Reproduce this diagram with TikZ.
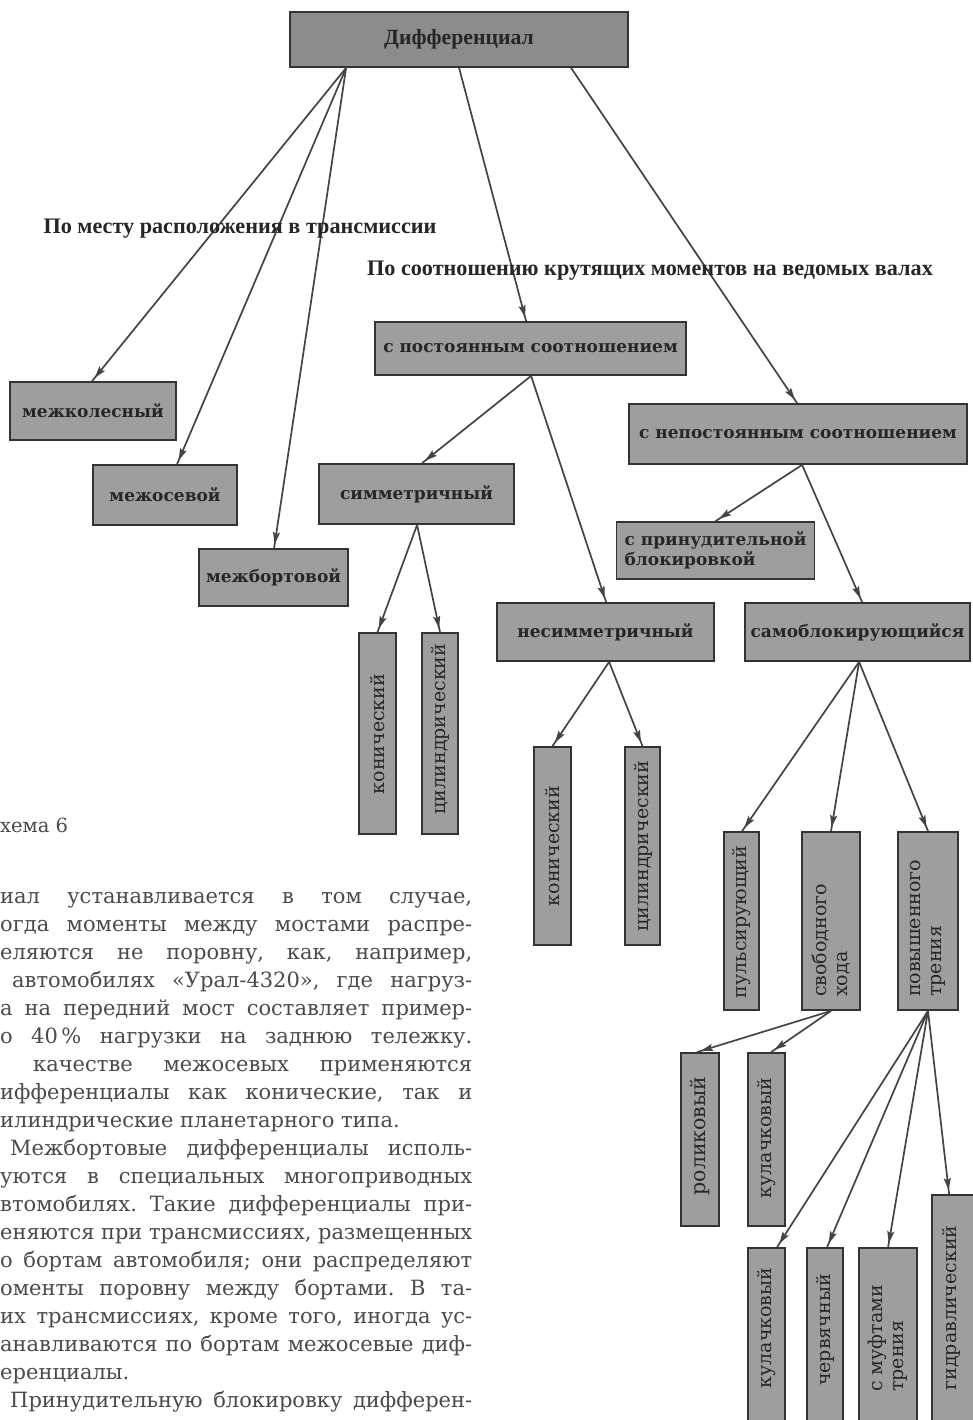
\documentclass[tikz,border=0pt]{standalone}
\usepackage{fontspec}
\usepackage{graphicx}
\setmainfont{DejaVu Serif}
\newfontfamily\lblfont{Liberation Serif}
\usetikzlibrary{arrows.meta,decorations.markings}
\definecolor{boxfill}{HTML}{9E9E9E}
\definecolor{topfill}{HTML}{8C8C8C}
\definecolor{edge}{HTML}{333333}
\definecolor{linec}{HTML}{444444}
\definecolor{txt}{HTML}{262626}
\definecolor{bodyc}{HTML}{4A4A4A}
\frenchspacing
\newsavebox\jbox
\newcommand\jline[2]{\sbox\jbox{#2}\ifdim\wd\jbox>#1\relax\resizebox{#1}{\height}{\usebox\jbox}\else\makebox[#1][s]{#2}\fi}
\begin{document}
\begin{tikzpicture}[x=1pt,y=-1pt,
  box/.style={draw=edge, line width=1.8pt, fill=boxfill, inner sep=0pt, text=txt,
    font=\bfseries\fontsize{17}{20}\selectfont},
  topbox/.style={fill=topfill, font=\lblfont\bfseries\fontsize{21.7}{24}\selectfont},
  vtext/.style={rotate=90, text=txt, inner sep=0pt, align=left,
    font=\fontsize{19}{21}\selectfont},
  lbl/.style={text=txt, inner sep=0pt, font=\lblfont\bfseries\fontsize{22.2}{25}\selectfont},
  bodyline/.style={anchor=base west, inner sep=0pt, text=bodyc,
    font=\fontsize{21}{28}\selectfont},
  conn/.style={draw=linec, line width=1.7pt, postaction=decorate,
    decoration={markings, mark=at position -4pt with {\arrow[linec]{Stealth[length=12pt,width=7pt,inset=2pt]}}}}
]
\useasboundingbox (0,0) rectangle (972,1420);
\fill[white] (0,0) rectangle (972,1420);

% top
\node[box, topbox, minimum width=338pt, minimum height=55pt] (diff) at (459,39.5) {Дифференциал};
% first branch
\node[box, minimum width=166pt, minimum height=58pt] (mk) at (93,411) {межколесный};
\node[box, minimum width=144pt, minimum height=60pt] (mo) at (165,495) {межосевой};
\node[box, minimum width=149pt, minimum height=57pt] (mb) at (273.5,577.5) {межбортовой};
% second branch
\node[box, minimum width=311pt, minimum height=53pt] (post) at (530.5,348.5) {с постоянным соотношением};
\node[box, minimum width=338pt, minimum height=60pt] (nepost) at (798,434) {с непостоянным соотношением};
\node[box, minimum width=195pt, minimum height=60pt] (sim) at (416.5,494) {симметричный};
\node[box, minimum width=217pt, minimum height=58pt] (nesim) at (605.5,632) {несимметричный};
\node[box, minimum width=198pt, minimum height=57pt, align=left] (prin) at (715.5,550.5) {с принудительной\\блокировкой};
\node[box, minimum width=225pt, minimum height=58pt] (samo) at (857.5,632) {самоблокирующийся};
% vertical boxes
\node[box, minimum width=37pt, minimum height=201pt] (kon1) at (377.5,733.5) {};
\node[box, minimum width=36pt, minimum height=201pt] (cyl1) at (440,733.5) {};
\node[box, minimum width=37pt, minimum height=198pt] (kon2) at (552.5,846) {};
\node[box, minimum width=35pt, minimum height=198pt] (cyl2) at (642.5,846) {};
\node[box, minimum width=35pt, minimum height=178pt] (puls) at (741.5,921) {};
\node[box, minimum width=58pt, minimum height=178pt] (svob) at (831,921) {};
\node[box, minimum width=60pt, minimum height=178pt] (povysh) at (928,921) {};
\node[box, minimum width=38pt, minimum height=173pt] (rol) at (700,1139.5) {};
\node[box, minimum width=37pt, minimum height=173pt] (kul1) at (766.5,1139.5) {};
\node[box, minimum width=37pt, minimum height=190pt] (kul2) at (766.5,1343) {};
\node[box, minimum width=36pt, minimum height=190pt] (cherv) at (825,1343) {};
\node[box, minimum width=58pt, minimum height=190pt] (mufta) at (888,1343) {};
\node[box, minimum width=46pt, minimum height=243pt] (gidr) at (955,1316.5) {};

\node[vtext] (tkon1) at (377.5,734) {конический};
\node[vtext] (tcyl1) at (440,729) {цилиндрический};
\node[vtext] (tkon2) at (552.5,846) {конический};
\node[vtext] (tcyl2) at (643,846) {цилиндрический};
\node[vtext] (tpuls) at (741.5,922) {пульсирующий};
\node[vtext, anchor=west] (tsvob) at (831,997) {свободного\\хода};
\node[vtext, anchor=west] (tpov) at (928,997) {повышенного\\трения};
\node[vtext, font=\fontsize{20.5}{22}\selectfont] (trol) at (700,1136) {роликовый};
\node[vtext] (tkul1) at (766.5,1138) {кулачковый};
\node[vtext] (tkul2) at (766.5,1328) {кулачковый};
\node[vtext] (tcherv) at (825,1330) {червячный};
\node[vtext, anchor=west] (tmuf) at (888,1392) {с муфтами\\трения};
\node[vtext] (tgidr) at (951,1308) {гидравлический};

% connectors
\draw[conn] ([xshift=57pt]diff.south west) -- ([xshift=83pt]mk.north west);
\draw[conn] ([xshift=57pt]diff.south west) -- ([xshift=85pt]mo.north west);
\draw[conn] ([xshift=57pt]diff.south west) -- ([xshift=76pt]mb.north west);
\draw[conn] ([xshift=170pt]diff.south west) -- ([xshift=152pt]post.north west);
\draw[conn] ([xshift=282pt]diff.south west) -- ([xshift=169pt]nepost.north west);
\draw[conn] ([xshift=157pt]post.south west) -- ([xshift=104pt]sim.north west);
\draw[conn] ([xshift=157pt]post.south west) -- ([xshift=110pt]nesim.north west);
\draw[conn] ([xshift=174pt]nepost.south west) -- ([xshift=100pt]prin.north west);
\draw[conn] ([xshift=174pt]nepost.south west) -- ([xshift=118pt]samo.north west);
\draw[conn] ([xshift=99pt]sim.south west) -- (kon1.north);
\draw[conn] ([xshift=99pt]sim.south west) -- (cyl1.north);
\draw[conn] ([xshift=113pt]nesim.south west) -- (kon2.north);
\draw[conn] ([xshift=113pt]nesim.south west) -- (cyl2.north);
\draw[conn] ([xshift=115pt]samo.south west) -- ([xshift=19pt]puls.north west);
\draw[conn] ([xshift=115pt]samo.south west) -- (svob.north);
\draw[conn] ([xshift=115pt]samo.south west) -- (povysh.north);
\draw[conn] (svob.south) -- ([xshift=17pt]rol.north west);
\draw[conn] (svob.south) -- ([xshift=24pt]kul1.north west);
\draw[conn] (povysh.south) -- ([xshift=30pt]kul2.north west);
\draw[conn] (povysh.south) -- ([xshift=21pt]cherv.north west);
\draw[conn] (povysh.south) -- ([xshift=30pt]mufta.north west);
\draw[conn] (povysh.south) -- ([xshift=18pt]gidr.north west);

% category labels
\node[lbl] (lab1) at (240,229) {По месту расположения в трансмиссии};
\node[lbl] (lab2) at (650,271) {По соотношению крутящих моментов на ведомых валах};

% caption and body text
\node[bodyline, font=\fontsize{19.5}{28}\selectfont] (cap) at (0,832) {хема 6};
\node[bodyline] (b1) at (0,903) {\jline{472pt}{иал устанавливается в том случае,}};
\node[bodyline] (b2) at (0,931) {\jline{472pt}{огда моменты между мостами распре-}};
\node[bodyline] (b3) at (0,959) {\jline{472pt}{еляются не поровну, как, например,}};
\node[bodyline] (b4) at (12,987) {\jline{460pt}{автомобилях «Урал-4320», где нагруз-}};
\node[bodyline] (b5) at (0,1015) {\jline{472pt}{а на передний мост составляет пример-}};
\node[bodyline] (b6) at (0,1043) {\jline{472pt}{о 40\,\% нагрузки на заднюю тележку.}};
\node[bodyline] (b7) at (33,1071) {\jline{439pt}{качестве межосевых применяются}};
\node[bodyline] (b8) at (0,1099) {\jline{472pt}{ифференциалы как конические, так и}};
\node[bodyline] (b9) at (0,1127) {илиндрические планетарного типа.};
\node[bodyline] (b10) at (10,1155) {\jline{462pt}{Межбортовые дифференциалы исполь-}};
\node[bodyline] (b11) at (0,1183) {\jline{472pt}{уются в специальных многоприводных}};
\node[bodyline] (b12) at (0,1211) {\jline{472pt}{втомобилях. Такие дифференциалы при-}};
\node[bodyline] (b13) at (0,1239) {\jline{472pt}{еняются при трансмиссиях, размещенных}};
\node[bodyline] (b14) at (0,1267) {\jline{472pt}{о бортам автомобиля; они распределяют}};
\node[bodyline] (b15) at (0,1295) {\jline{472pt}{оменты поровну между бортами. В та-}};
\node[bodyline] (b16) at (0,1323) {\jline{472pt}{их трансмиссиях, кроме того, иногда ус-}};
\node[bodyline] (b17) at (0,1351) {\jline{472pt}{анавливаются по бортам межосевые диф-}};
\node[bodyline] (b18) at (0,1379) {еренциалы.};
\node[bodyline] (b19) at (10,1407) {\jline{462pt}{Принудительную блокировку дифферен-}};
\end{tikzpicture}
\end{document}
